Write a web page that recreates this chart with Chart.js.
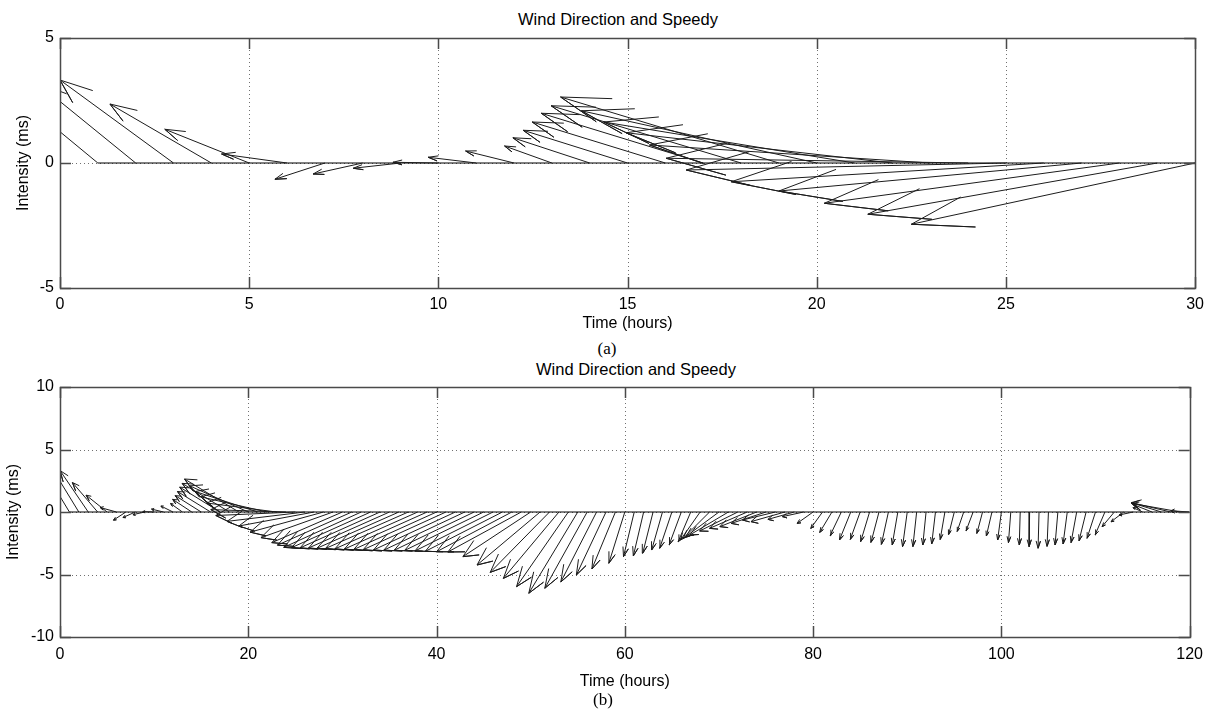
<!DOCTYPE html>
<html>
<head>
<meta charset="utf-8">
<title>Wind Direction and Speedy</title>
<style>
*{padding:0;margin:0;box-sizing:border-box}
body{width:1211px;height:711px;background:#fff;position:relative;overflow:hidden;font-family:'Liberation Sans',Arial,sans-serif;color:#000}
.box{position:absolute;left:0;width:1211px}
.ttl{position:absolute;width:400px;text-align:center;font-size:16.5px;line-height:18px}
.cap{position:absolute;width:400px;text-align:center;font-family:'Liberation Serif','Times New Roman',serif;font-size:17px;line-height:20px}
</style>
</head>
<body>
<div class="ttl" style="top:10px;left:418px">Wind Direction and Speedy</div>
<div class="box" style="top:0;height:336px"><canvas id="chartA"></canvas></div>
<div class="cap" style="top:339px;left:407px">(a)</div>
<div class="ttl" style="top:360px;left:436px">Wind Direction and Speedy</div>
<div class="box" style="top:350px;height:345px"><canvas id="chartB"></canvas></div>
<div class="cap" style="top:690px;left:403px">(b)</div>

<script src="https://cdn.jsdelivr.net/npm/chart.js"></script>
<script>
// hourly wind vectors, hour 1..120 (feather plot: each arrow starts at (hour, 0))
const windU = [
  -2.2, -2.6, -3.0, -2.68, -2.23, -1.73, -1.32, -1.31, -1.25, -1.2,
  -1.27, -1.28, -1.25, -2.03, -2.76, -3.52, -4.28, -5.02, -5.77, -6.22,
  -6.63, -7.04, -7.42, -7.98, -8.45, -8.26, -8.0, -7.8, -7.65, -7.5,
  -7.9, -8.23, -8.4, -8.5, -8.6, -8.7, -8.8, -8.8, -8.8, -8.8,
  -8.8, -8.7, -8.6, -8.5, -8.4, -8.3, -8.2, -8.0, -7.8, -7.2,
  -6.7, -6.3, -5.9, -5.5, -5.2, -4.5, -3.8, -3.15, -2.5, -1.7,
  -1.14, -1.1, -1.1, -1.15, -1.3, -1.3, -1.33, -2.1, -2.8, -3.5,
  -4.1, -4.05, -4.0, -3.9, -3.7, -3.5, -3.6, -2.8, -2.25, -1.7,
  -1.25, -1.3, -1.2, -1.2, -1.05, -0.95, -0.85, -0.75, -0.6, -0.5,
  -0.4, -0.35, -0.4, -0.5, -0.6, -0.7, -0.75, -0.6, -0.6, -0.4,
  -0.25, -0.1, -0.05, -0.1, -0.15, -0.3, -0.45, -0.6, -0.75, -0.9,
  -1.05, -1.3, -1.35, -1.5, -1.0, -2.0, -3.0, -4.2, -5.2, -2.0
];
const windV = [
  2.75, 3.2, 3.32, 2.36, 1.35, 0.36, -0.65, -0.44, -0.21, 0.03,
  0.23, 0.48, 0.68, 1.01, 1.31, 1.64, 1.99, 2.29, 2.64, 2.09,
  1.64, 1.21, 0.72, 0.19, -0.28, -0.75, -1.12, -1.61, -2.05, -2.45,
  -2.65, -2.83, -2.85, -2.87, -2.88, -2.9, -2.92, -2.95, -2.97, -3.0,
  -3.02, -3.04, -3.05, -3.06, -3.08, -3.12, -3.15, -3.18, -3.2, -3.57,
  -4.24, -4.83, -5.31, -5.97, -6.5, -6.1, -5.6, -5.04, -4.56, -4.1,
  -3.57, -3.52, -3.3, -3.04, -2.9, -2.64, -2.37, -2.25, -2.1, -1.95,
  -1.84, -1.52, -1.31, -1.17, -0.91, -0.64, -0.77, -0.59, -0.37, -0.91,
  -1.31, -1.63, -1.89, -2.24, -2.19, -2.37, -2.43, -2.59, -2.64, -2.77,
  -2.77, -2.64, -2.55, -2.2, -1.8, -1.55, -1.5, -1.71, -1.92, -2.24,
  -2.45, -2.64, -2.77, -2.9, -2.75, -2.64, -2.56, -2.45, -2.3, -2.1,
  -1.84, -1.17, -0.78, -0.24, 0.35, 0.6, 0.7, 0.75, 0.7, 0.1
];
const hoursA = 30;   // panel (a): first 30 hours
const hoursB = 120;  // panel (b): all 120 hours
const xTicksA = [0, 5, 10, 15, 20, 25, 30];
const yTicksA = [-5, 0, 5];
const xTicksB = [0, 20, 40, 60, 80, 100, 120];
const yTicksB = [-10, -5, 0, 5, 10];

const FONT = "'Liberation Sans', Arial, sans-serif";
const INK = '#1c1c1c';

// arrow = shaft, then the two barbs (like matlab feather: head at 0.8 of length, +-0.08 wide)
function featherPoints(n) {
  const pts = [];
  for (let k = 0; k < n; k++) {
    const x0 = k + 1, u = windU[k], v = windV[k];
    const tip = { x: x0 + u, y: v };
    pts.push({ x: x0, y: 0 }, tip,
      { x: x0 + 0.8 * u - 0.08 * v, y: 0.8 * v + 0.08 * u }, tip,
      { x: x0 + 0.8 * u + 0.08 * v, y: 0.8 * v - 0.08 * u },
      { x: x0, y: null });
  }
  return pts;
}

// dotted grid, box and inward tick marks
const matlabAxes = {
  id: 'matlabAxes',
  beforeDatasetsDraw(chart) {
    const { ctx, chartArea: a, scales: { x, y } } = chart;
    ctx.save();
    ctx.strokeStyle = '#707070';
    ctx.lineWidth = 1;
    ctx.setLineDash([1, 3]);
    ctx.beginPath();
    x.ticks.forEach(t => {
      if (t.value <= x.min || t.value >= x.max) return;
      const px = Math.round(x.getPixelForValue(t.value)) + 0.5;
      ctx.moveTo(px, a.top); ctx.lineTo(px, a.bottom);
    });
    y.ticks.forEach(t => {
      if (t.value <= y.min || t.value >= y.max) return;
      const py = Math.round(y.getPixelForValue(t.value)) + 0.5;
      ctx.moveTo(a.left, py); ctx.lineTo(a.right, py);
    });
    ctx.stroke();
    ctx.restore();
  },
  afterDatasetsDraw(chart) {
    const { ctx, chartArea: a, scales: { x, y } } = chart;
    const tl = 11;
    ctx.save();
    ctx.strokeStyle = '#4a4a4a';
    ctx.lineWidth = 1.5;
    ctx.beginPath();
    x.ticks.forEach(t => {
      const px = Math.round(x.getPixelForValue(t.value)) + 0.5;
      ctx.moveTo(px, a.top); ctx.lineTo(px, a.top + tl);
      ctx.moveTo(px, a.bottom); ctx.lineTo(px, a.bottom - tl);
    });
    y.ticks.forEach(t => {
      const py = Math.round(y.getPixelForValue(t.value)) + 0.5;
      ctx.moveTo(a.left, py); ctx.lineTo(a.left + tl, py);
      ctx.moveTo(a.right, py); ctx.lineTo(a.right - tl, py);
    });
    ctx.stroke();
    ctx.strokeRect(Math.round(a.left) + 0.5, Math.round(a.top) + 0.5,
      Math.round(a.right - a.left), Math.round(a.bottom - a.top));
    ctx.restore();
  }
};

function makeFeather(id, n, xTicks, yTicks, xStep, yStep, lay) {
  new Chart(document.getElementById(id), {
    type: 'scatter',
    data: {
      datasets: [
        { data: featherPoints(n), showLine: true, spanGaps: false, borderColor: INK, borderWidth: 1, pointRadius: 0, tension: 0 },
        { data: [{ x: 1, y: 0 }, { x: n, y: 0 }], showLine: true, borderColor: '#000', borderWidth: 1.2, pointRadius: 0 }
      ]
    },
    options: {
      responsive: true,
      maintainAspectRatio: false,
      animation: false,
      layout: { padding: { top: lay.top, right: 15, bottom: 0, left: 0 } },
      plugins: { legend: { display: false }, tooltip: { enabled: false } },
      scales: {
        x: {
          type: 'linear', min: xTicks[0], max: xTicks[xTicks.length - 1],
          afterFit: s => { s.height = lay.xAxisH; },
          grid: { display: false, drawTicks: false },
          border: { display: false },
          ticks: { stepSize: xStep, padding: lay.tickPad, color: '#000', maxRotation: 0, autoSkip: false, font: { family: FONT, size: 16 } },
          title: { display: true, text: 'Time (hours)', color: '#000', padding: { top: 0, bottom: lay.xTitlePad }, font: { family: FONT, size: 16 } }
        },
        y: {
          type: 'linear', min: yTicks[0], max: yTicks[yTicks.length - 1],
          afterFit: s => { s.width = 60; },
          grid: { display: false, drawTicks: false },
          border: { display: false },
          ticks: { stepSize: yStep, padding: 6, color: '#000', font: { family: FONT, size: 16 } },
          title: { display: true, text: 'Intensity (ms)', color: '#000', padding: { top: lay.yTitlePad, bottom: 0 }, font: { family: FONT, size: 16 } }
        }
      }
    },
    plugins: [matlabAxes]
  });
}

makeFeather('chartA', hoursA, xTicksA, yTicksA, 5, 5, { top: 38, xAxisH: 48, tickPad: 7, xTitlePad: 3, yTitlePad: 14 });
makeFeather('chartB', hoursB, xTicksB, yTicksB, 20, 5, { top: 37, xAxisH: 58, tickPad: 8, xTitlePad: 4, yTitlePad: 4 });
</script>
</body>
</html>
